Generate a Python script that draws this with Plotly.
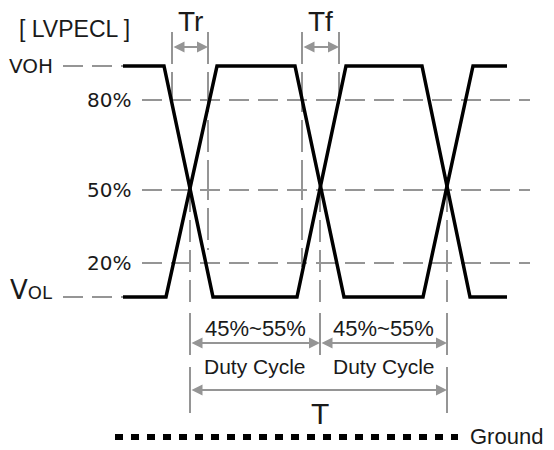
import plotly.graph_objects as go

# ---------------- data (diagram units) ----------------
# signal levels, normalised: VOL = 0, VOH = 1 (reference lines as drawn in the diagram)
level_labels = ["80%", "50%", "20%"]
level_values = [0.853, 0.463, 0.147]
voh_value = 1.0
vol_value = 0.0

# differential waveform, time units
wave_a_t = [123, 164, 213, 297, 346, 422, 470, 507]
wave_a_v = [1, 1, 0, 0, 1, 1, 0, 0]
wave_b_t = [123, 166, 217, 295, 344, 423, 473, 507]
wave_b_v = [0, 0, 1, 1, 0, 0, 1, 1]

crossing_t = [190, 320, 447]     # 50 % crossing points
tr_t = [172, 208]                # rise-time markers
tf_t = [302, 339]                # fall-time markers
duty_labels = ["45%~55%", "45%~55%"]
duty_text = ["Duty Cycle", "Duty Cycle"]

# ---------------- styling ----------------
GRAY = "#959595"
TXT = "#1a1a1a"
SANS = "Liberation Sans, Arial, sans-serif"
WIDE = "DejaVu Sans, sans-serif"
DASH = "20px,9px"

Y_TOP = 297 / 231
Y_BOT = (297 - 450) / 231


def py(p):
    """layout helper: vertical position in the diagram (row) -> level units"""
    return (297 - p) / 231


fig = go.Figure()


def seg(x, y, color=GRAY, width=2, dash=None):
    fig.add_trace(go.Scatter(x=x, y=y, mode="lines", hoverinfo="skip",
                             line=dict(color=color, width=width, dash=dash)))


# horizontal reference lines
seg([63, wave_a_t[0]], [voh_value, voh_value], dash=DASH)
seg([63, wave_a_t[0]], [vol_value, vol_value], dash=DASH)
for v in level_values:
    seg([142, 530], [v, v], dash=DASH)

# Tr / Tf marker lines
seg([tr_t[0], tr_t[0]], [py(32), py(103)], dash="32px,8px")
seg([tr_t[1], tr_t[1]], [py(32), py(250)], dash="32px,8px,40px,8px")
seg([tf_t[0], tf_t[0]], [py(32), py(267)], dash="32px,8px,40px,8px")
seg([tf_t[1], tf_t[1]], [py(32), py(105)], dash="32px,8px")

# crossing lines
for i, t in enumerate(crossing_t):
    seg([t, t], [py(190), py(305)], dash="22px,8px")
    seg([t, t], [py(313), py(355)])
    if i != 1:
        seg([t, t], [py(367), py(413)])

# waveforms
seg(wave_a_t, wave_a_v, color="black", width=3.5)
seg(wave_b_t, wave_b_v, color="black", width=3.5)

# ground
seg([115, 458], [py(437), py(437)], color="black", width=6, dash="8px,8px")


def darrow(x0, x1, y):
    fig.add_annotation(x=x1, y=y, ax=x0, ay=y, xref="x", yref="y",
                       axref="x", ayref="y", text="", showarrow=True,
                       arrowhead=2, startarrowhead=2, arrowside="end+start",
                       arrowsize=1.1, startarrowsize=1.1, arrowwidth=2,
                       arrowcolor=GRAY, standoff=0, startstandoff=0)


darrow(tr_t[0], tr_t[1], py(47))
darrow(tf_t[0], tf_t[1], py(47))
darrow(crossing_t[0], crossing_t[1], py(343))
darrow(crossing_t[1], crossing_t[2], py(343))
darrow(crossing_t[0], crossing_t[2], py(390))


def label(x, y, text, size, font=SANS, xanchor="center"):
    fig.add_annotation(x=x, y=y, xref="x", yref="y", text=text,
                       showarrow=False, xanchor=xanchor, yanchor="middle",
                       font=dict(family=font, size=size, color=TXT))


label(74, py(29), "[ LVPECL ]", 23)
label(31, voh_value, "VOH", 20, font=WIDE)
label(31, py(290), "V<span style='font-size:18px'>OL</span>", 26, font=WIDE)
for name, v in zip(level_labels, level_values):
    label(109, v, name, 20, font=WIDE)
label(190, py(21), "Tr", 28)
label(320, py(21), "Tf", 28)
for i in range(2):
    cx = (crossing_t[i] + crossing_t[i + 1]) / 2
    label(cx, py(328), duty_labels[i], 22)
    label(cx, py(366), duty_text[i], 21)
label(320, py(413), "T", 30)
label(468, py(436), "Ground", 22, xanchor="left")

fig.update_layout(
    width=554, height=450, margin=dict(l=0, r=0, t=0, b=0),
    paper_bgcolor="white", plot_bgcolor="white", showlegend=False,
    xaxis=dict(visible=False, range=[0, 554], fixedrange=True),
    yaxis=dict(visible=False, range=[Y_BOT, Y_TOP], fixedrange=True),
)

fig.write_html("out.html", config={"displayModeBar": False},
               post_script="document.body.style.margin='0';document.body.style.overflow='hidden';")
